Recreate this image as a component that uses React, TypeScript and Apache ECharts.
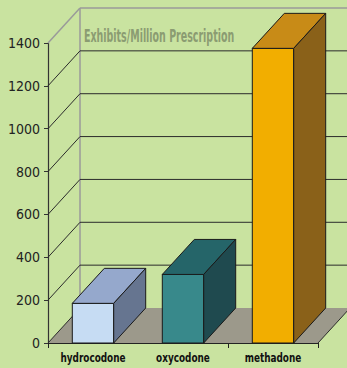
import React, { useEffect, useRef } from "react";
import * as echarts from "echarts";

const categories = ["hydrocodone", "oxycodone", "methadone"];
const values = [185, 320, 1375];
const yTicks = [0, 200, 400, 600, 800, 1000, 1200, 1400];
const titleText = "Exhibits/Million Prescription";

const faceColors = [
  { front: "#c6dcf3", top: "#95a8cc", side: "#667590" },
  { front: "#38898b", top: "#256569", side: "#1f4a4f" },
  { front: "#f2ae00", top: "#c88b17", side: "#8a6119" },
];

const DX = 32;
const DY = -35;
const NARROW = '"DejaVu Sans Condensed", "Liberation Sans Narrow", sans-serif';

export default function App() {
  const ref = useRef<HTMLDivElement>(null);
  useEffect(() => {
    const chart = echarts.init(ref.current!, null, { renderer: "svg" });
    const yMax = yTicks[yTicks.length - 1];
    chart.setOption({
      animation: false,
      backgroundColor: "#c9e3a0",
      grid: { left: 48, right: 29, top: 43, bottom: 25 },
      xAxis: {
        type: "category",
        data: categories,
        boundaryGap: true,
        axisLine: { lineStyle: { color: "#222", width: 1 } },
        axisTick: { show: true, length: 5, lineStyle: { color: "#222" } },
        axisLabel: { show: false },
        splitLine: { show: false },
      },
      yAxis: {
        type: "value",
        min: 0,
        max: yMax,
        interval: 200,
        axisLine: { show: true, lineStyle: { color: "#333", width: 1.2 } },
        axisTick: { show: true, length: 4, lineStyle: { color: "#333" } },
        axisLabel: {
          color: "#222",
          fontFamily: NARROW,
          fontSize: 14,
          margin: 8,
          formatter: (v: number) => String(v),
        },
        splitLine: { show: false },
      },
      graphic: [
        {
          type: "text",
          x: 84,
          y: 27,
          scaleX: 0.62,
          style: {
            text: titleText,
            fontFamily: NARROW,
            fontWeight: "bold",
            fontSize: 17,
            fill: "#8b9c72",
            verticalAlign: "top",
          },
        },
      ],
      series: [
        {
          type: "custom",
          silent: true,
          z: 1,
          data: yTicks.map((v) => [0, v]),
          renderItem: (params: any, api: any) => {
            const cs = params.coordSys;
            const v = api.value(1);
            const y = api.coord([0, v])[1];
            const x0 = cs.x;
            const x1 = cs.x + cs.width;
            const isTop = v === yMax;
            const dark = "#2b2b2b";
            const gray = "#9a9a9a";
            const children: any[] = [];
            if (params.dataIndex === 0) {
              children.push({
                type: "polygon",
                shape: { points: [[x0, y], [x1, y], [x1 + DX, y + DY], [x0 + DX, y + DY]] },
                style: { fill: "#9c998b" },
              });
              children.push({
                type: "line",
                shape: { x1: x0 + DX, y1: cs.y + DY, x2: x0 + DX, y2: y + DY },
                style: { stroke: gray, lineWidth: 1.5 },
              });
              children.push({
                type: "line",
                shape: { x1: x1, y1: y, x2: x1 + DX, y2: y + DY },
                style: { stroke: dark, lineWidth: 1 },
              });
            }
            children.push({
              type: "line",
              shape: { x1: x0, y1: y, x2: x0 + DX, y2: y + DY },
              style: { stroke: isTop ? gray : dark, lineWidth: isTop ? 1.5 : 1 },
            });
            if (v !== 0) {
              children.push({
                type: "line",
                shape: { x1: x0 + DX, y1: y + DY, x2: x1 + DX + 10, y2: y + DY },
                style: { stroke: isTop ? gray : dark, lineWidth: isTop ? 1.5 : 1 },
              });
            }
            return { type: "group", children };
          },
        },
        {
          type: "custom",
          silent: true,
          z: 3,
          data: categories.map((c, i) => [i, 0]),
          renderItem: (params: any, api: any) => {
            const i = api.value(0);
            const p = api.coord([i, 0]);
            return {
              type: "text",
              x: p[0],
              y: p[1] + 8,
              scaleX: 0.76,
              style: {
                text: categories[i],
                fontFamily: NARROW,
                fontWeight: "bold",
                fontSize: 13,
                fill: "#111",
                align: "center",
                verticalAlign: "top",
              },
            };
          },
        },
        {
          type: "custom",
          z: 2,
          data: values.map((v, i) => [i, v]),
          renderItem: (params: any, api: any) => {
            const i = api.value(0);
            const v = api.value(1);
            const top = api.coord([i, v]);
            const base = api.coord([i, 0]);
            const w = api.size([1, 0])[0] * 0.46;
            const xl = top[0] - w / 2;
            const xr = top[0] + w / 2;
            const c = faceColors[i];
            const stroke = "#1a1a1a";
            return {
              type: "group",
              children: [
                {
                  type: "rect",
                  shape: { x: xl, y: top[1], width: w, height: base[1] - top[1] },
                  style: { fill: c.front, stroke, lineWidth: 1 },
                },
                {
                  type: "polygon",
                  shape: { points: [[xl, top[1]], [xr, top[1]], [xr + DX, top[1] + DY], [xl + DX, top[1] + DY]] },
                  style: { fill: c.top, stroke, lineWidth: 1 },
                },
                {
                  type: "polygon",
                  shape: { points: [[xr, top[1]], [xr + DX, top[1] + DY], [xr + DX, base[1] + DY], [xr, base[1]]] },
                  style: { fill: c.side, stroke, lineWidth: 1 },
                },
              ],
            };
          },
        },
      ],
    });
    return () => chart.dispose();
  }, []);
  return <div ref={ref} style={{ position: "fixed", left: 0, top: 0, width: 347, height: 368 }} />;
}
